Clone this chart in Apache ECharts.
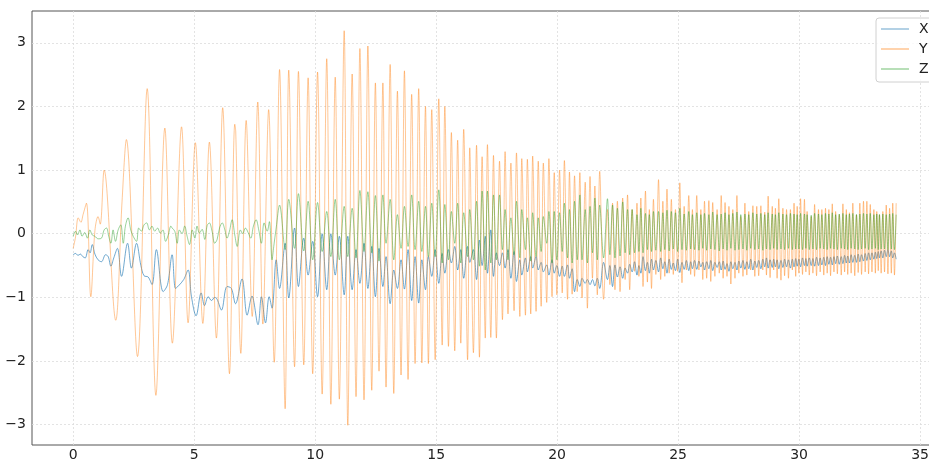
<!DOCTYPE html>
<html>
<head>
<meta charset="utf-8">
<script src="https://cdn.jsdelivr.net/npm/echarts@6/dist/echarts.min.js"></script>
<style>
  html, body { margin: 0; padding: 0; background: #fff; }
  #chart { width: 929px; height: 461px; }
</style>
</head>
<body>
<div id="chart"></div>
<script>
const names = ['X', 'Y', 'Z']
const colors = ['#1f77b4', '#ff7f0e', '#2ca02c']

// first seconds, read as [t, value] pairs (slow part of the record)
const xEarly = [[0, -0.33], [0.1, -0.31], [0.2, -0.34], [0.3, -0.32], [0.4, -0.36], [0.5, -0.38], [0.62, -0.25], [0.7, -0.3], [0.79, -0.17], [0.9, -0.32],
  [1.03, -0.41], [1.17, -0.44], [1.34, -0.33], [1.45, -0.36], [1.56, -0.51], [1.68, -0.38], [1.83, -0.23], [2.0, -0.67], [2.25, -0.15], [2.41, -0.54],
  [2.62, -0.15], [2.8, -0.5], [2.93, -0.66], [3.1, -0.68], [3.26, -0.8], [3.44, -0.25], [3.72, -0.91], [3.9, -0.8], [4.09, -0.33], [4.23, -0.86],
  [4.35, -0.82], [4.57, -0.72], [4.75, -0.57], [4.89, -0.99], [5.08, -1.29], [5.29, -0.93], [5.43, -1.13], [5.58, -0.99], [5.72, -1.05], [5.85, -1.0],
  [5.95, -1.03], [6.13, -1.2], [6.36, -0.83], [6.54, -0.86], [6.71, -1.1], [6.98, -0.71], [7.19, -1.28], [7.39, -0.98], [7.64, -1.43], [7.78, -0.99],
  [7.95, -1.4], [8.1, -0.99], [8.22, -1.17], [8.39, -0.41]]

const yEarly = [[0, -0.23], [0.1, -0.05], [0.21, 0.25], [0.32, 0.18], [0.41, 0.3], [0.55, 0.48], [0.73, -0.99], [0.9, 0.05], [1.03, 0.27], [1.12, 0.15],
  [1.28, 1.0], [1.76, -1.36], [2.02, 0.5], [2.2, 1.48], [2.66, -1.93], [3.06, 2.28], [3.42, -2.54], [3.79, 1.66], [4.1, -1.72], [4.48, 1.68],
  [4.75, -1.4], [5.05, 1.43], [5.36, -1.41], [5.63, 1.44], [5.92, -1.64], [6.18, 1.98], [6.46, -2.2], [6.68, 1.72], [6.72, 1.6], [6.93, -1.88],
  [7.15, 1.78], [7.4, -1.3], [7.63, 2.07], [7.84, -1.42], [8.08, 1.95], [8.31, -2.02]]

const zEarly = [[0, -0.04], [0.1, 0.04], [0.18, -0.02], [0.28, 0.06], [0.37, -0.04], [0.48, 0.02], [0.59, -0.07], [0.69, 0.06], [0.79, -0.02], [0.9, -0.04],
  [1.03, -0.08], [1.17, -0.07], [1.28, 0.06], [1.38, 0.09], [1.47, -0.04], [1.56, -0.15], [1.65, 0.06], [1.75, -0.12], [1.86, 0.06], [1.97, 0.14],
  [2.07, -0.15], [2.16, 0.12], [2.27, 0.25], [2.38, 0.06], [2.48, -0.04], [2.62, -0.12], [2.71, 0.09], [2.82, 0.04], [2.93, 0.14], [3.04, 0.17],
  [3.15, 0.06], [3.26, 0.12], [3.37, 0.04], [3.49, 0.09], [3.6, 0.01], [3.71, 0.06], [3.82, -0.12], [3.93, -0.02], [4.04, 0.12], [4.09, 0.09],
  [4.2, 0.04], [4.3, -0.15], [4.39, 0.06], [4.5, 0.0], [4.61, 0.12], [4.71, -0.04], [4.81, -0.17], [4.92, 0.06], [5.03, -0.07], [5.12, 0.12],
  [5.22, 0.01], [5.33, 0.07], [5.44, -0.09], [5.54, 0.13], [5.63, 0.17], [5.74, 0.04], [5.85, -0.15], [5.95, -0.09], [6.05, 0.09], [6.16, 0.17],
  [6.27, 0.06], [6.36, -0.07], [6.46, 0.04], [6.57, 0.22], [6.68, -0.02], [6.78, -0.2], [6.91, 0.06], [7.01, 0.0], [7.12, 0.09], [7.23, 0.02],
  [7.34, -0.07], [7.45, 0.12], [7.56, 0.22], [7.67, 0.06], [7.78, -0.15], [7.89, 0.17], [8.02, 0.04], [8.11, 0.19], [8.22, -0.41], [8.29, -0.2],
  [8.39, 0.09]]

// fast part: times of the Y peaks / troughs, and the three signals at those times
const tLate = [8.53, 8.76, 8.91, 9.15, 9.31, 9.53, 9.71, 9.90, 10.10, 10.29,
  10.48, 10.65, 10.83, 11.00, 11.20, 11.35, 11.53, 11.69, 11.85, 12.02,
  12.18, 12.34, 12.49, 12.64, 12.80, 12.93, 13.10, 13.25, 13.40, 13.55,
  13.69, 13.84, 13.99, 14.13, 14.28, 14.41, 14.56, 14.68, 14.82, 14.96,
  15.11, 15.25, 15.36, 15.51, 15.63, 15.77, 15.89, 16.02, 16.14, 16.30,
  16.39, 16.54, 16.67, 16.79, 16.90, 17.03, 17.12, 17.26, 17.37, 17.49,
  17.62, 17.74, 17.85, 17.97, 18.09, 18.22, 18.32, 18.46, 18.54, 18.69,
  18.77, 18.91, 18.99, 19.13, 19.22, 19.34, 19.43, 19.57, 19.66, 19.79,
  19.88, 19.99, 20.10, 20.21, 20.30, 20.43, 20.51, 20.62, 20.72, 20.83,
  20.94, 21.03, 21.16, 21.25, 21.36, 21.46, 21.56, 21.66, 21.76, 21.92,
  22.08, 22.18, 22.29, 22.39, 22.49, 22.60, 22.71, 22.81, 22.91, 23.00,
  23.10, 23.20, 23.30, 23.38, 23.46, 23.55, 23.65, 23.73, 23.81, 23.90,
  23.98, 24.08, 24.19, 24.28, 24.37, 24.45, 24.54, 24.63, 24.72, 24.80,
  24.89, 24.98, 25.07, 25.16, 25.25, 25.34, 25.44, 25.52, 25.59, 25.68,
  25.77, 25.86, 25.94, 26.02, 26.09, 26.18, 26.27, 26.35, 26.43, 26.52,
  26.61, 26.70, 26.78, 26.86, 26.94, 27.02, 27.10, 27.18, 27.26, 27.35,
  27.43, 27.51, 27.59, 27.68, 27.76, 27.84, 27.92, 28.00, 28.09, 28.17,
  28.25, 28.33, 28.42, 28.50, 28.58, 28.65, 28.72, 28.80, 28.89, 28.95,
  29.02, 29.09, 29.16, 29.25, 29.33, 29.40, 29.48, 29.56, 29.64, 29.72,
  29.79, 29.86, 29.92, 29.99, 30.06, 30.14, 30.22, 30.28, 30.33, 30.42,
  30.50, 30.57, 30.64, 30.72, 30.80, 30.87, 30.94, 31.02, 31.09, 31.16,
  31.23, 31.30, 31.37, 31.44, 31.51, 31.58, 31.66, 31.74, 31.81, 31.88,
  31.95, 32.01, 32.08, 32.15, 32.22, 32.30, 32.37, 32.44, 32.51, 32.58,
  32.66, 32.73, 32.80, 32.87, 32.94, 33.01, 33.09, 33.15, 33.21, 33.27,
  33.32, 33.39, 33.46, 33.53, 33.60, 33.67, 33.74, 33.81, 33.87, 33.94,
  34.01]

const yLate = [2.58, -2.75, 2.57, -2.09, 2.55, -2.06, 2.45, -2.20, 2.54, -2.52,
  2.75, -2.68, 2.46, -2.60, 3.19, -3.01, 2.51, -2.56, 2.91, -2.61,
  2.95, -2.46, 2.37, -2.16, 2.37, -2.41, 2.66, -2.51, 2.24, -2.22,
  2.56, -2.29, 2.19, -2.04, 2.28, -2.03, 2.00, -2.04, 1.95, -1.98,
  2.12, -1.75, 2.00, -1.77, 1.59, -1.84, 1.47, -1.72, 1.64, -1.98,
  1.35, -1.87, 1.39, -1.94, 1.21, -1.64, 1.40, -1.63, 1.23, -1.64,
  1.14, -1.35, 1.29, -1.26, 1.11, -1.21, 1.27, -1.30, 1.18, -1.28,
  1.17, -1.26, 1.22, -1.22, 1.14, -1.14, 1.11, -1.08, 1.18, -0.99,
  0.96, -0.96, 1.00, -0.93, 1.15, -1.03, 0.97, -0.95, 0.91, -0.91,
  0.96, -1.01, 0.81, -1.17, 0.90, -0.70, 0.75, -0.96, 0.98, -1.03,
  0.38, -0.80, 0.48, -0.88, 0.51, -0.91, 0.56, -0.72, 0.61, -0.88,
  0.38, -0.59, 0.48, -0.67, 0.56, -0.83, 0.67, -0.76, 0.38, -0.86,
  0.54, -0.64, 0.85, -0.72, 0.51, -0.67, 0.70, -0.62, 0.54, -0.64,
  0.38, -0.59, 0.80, -0.77, 0.43, -0.57, 0.60, -0.64, 0.38, -0.67,
  0.60, -0.57, 0.38, -0.72, 0.51, -0.70, 0.52, -0.75, 0.49, -0.67,
  0.38, -0.62, 0.60, -0.70, 0.49, -0.67, 0.43, -0.79, 0.38, -0.70,
  0.60, -0.62, 0.27, -0.67, 0.48, -0.65, 0.35, -0.57, 0.44, -0.67,
  0.43, -0.66, 0.44, -0.57, 0.34, -0.65, 0.59, -0.69, 0.43, -0.57,
  0.40, -0.70, 0.55, -0.73, 0.40, -0.66, 0.38, -0.70, 0.38, -0.57,
  0.48, -0.67, 0.43, -0.62, 0.55, -0.64, 0.54, -0.60, 0.35, -0.65,
  0.27, -0.62, 0.46, -0.66, 0.38, -0.60, 0.38, -0.65, 0.40, -0.62,
  0.38, -0.66, 0.47, -0.60, 0.35, -0.63, 0.30, -0.65, 0.47, -0.60,
  0.38, -0.64, 0.33, -0.62, 0.48, -0.66, 0.30, -0.61, 0.48, -0.64,
  0.51, -0.60, 0.51, -0.63, 0.46, -0.60, 0.38, -0.62, 0.35, -0.58,
  0.30, -0.62, 0.35, -0.60, 0.45, -0.63, 0.40, -0.62, 0.48, -0.65,
  0.48]

const xLate = [-0.86, -0.15, -1.01, 0.09, -0.83, -0.07, -0.65, -0.12, -0.99, 0.00,
  -0.88, 0.00, -0.65, -0.04, -0.96, -0.04, -0.88, -0.25, -0.78, -0.15,
  -0.86, -0.20, -0.99, -0.23, -0.83, -0.36, -1.10, -0.57, -0.86, -0.41,
  -0.87, -0.25, -1.05, -0.36, -1.09, -0.41, -0.88, -0.36, -0.67, -0.25,
  -0.78, -0.31, -0.62, -0.25, -0.46, -0.20, -0.57, -0.25, -0.70, -0.20,
  -0.45, -0.25, -0.72, -0.10, -0.50, -0.04, -0.62, 0.06, -0.67, -0.30,
  -0.50, -0.30, -0.54, -0.25, -0.70, -0.28, -0.75, -0.41, -0.65, -0.38,
  -0.60, -0.36, -0.54, -0.36, -0.57, -0.45, -0.60, -0.49, -0.65, -0.41,
  -0.62, -0.50, -0.67, -0.51, -0.67, -0.49, -0.70, -0.55, -0.91, -0.72,
  -0.83, -0.70, -0.78, -0.72, -0.80, -0.72, -0.82, -0.70, -0.86, -0.45,
  -0.72, -0.50, -0.83, -0.49, -0.68, -0.52, -0.70, -0.54, -0.62, -0.48,
  -0.60, -0.44, -0.65, -0.50, -0.62, -0.36, -0.58, -0.45, -0.62, -0.40,
  -0.57, -0.42, -0.60, -0.38, -0.55, -0.44, -0.62, -0.40, -0.56, -0.46,
  -0.58, -0.40, -0.61, -0.45, -0.56, -0.42, -0.58, -0.44, -0.55, -0.42,
  -0.56, -0.43, -0.52, -0.45, -0.57, -0.44, -0.55, -0.42, -0.58, -0.45,
  -0.53, -0.44, -0.57, -0.43, -0.56, -0.47, -0.59, -0.44, -0.55, -0.45,
  -0.57, -0.43, -0.54, -0.42, -0.56, -0.44, -0.55, -0.40, -0.57, -0.43,
  -0.53, -0.42, -0.55, -0.40, -0.52, -0.38, -0.54, -0.41, -0.53, -0.40,
  -0.52, -0.41, -0.55, -0.42, -0.53, -0.40, -0.52, -0.41, -0.54, -0.40,
  -0.52, -0.39, -0.51, -0.40, -0.52, -0.38, -0.50, -0.39, -0.51, -0.38,
  -0.50, -0.39, -0.51, -0.37, -0.50, -0.38, -0.49, -0.37, -0.50, -0.36,
  -0.48, -0.37, -0.49, -0.36, -0.47, -0.35, -0.48, -0.36, -0.47, -0.34,
  -0.46, -0.35, -0.46, -0.33, -0.45, -0.34, -0.45, -0.32, -0.44, -0.33,
  -0.43, -0.31, -0.42, -0.30, -0.41, -0.30, -0.40, -0.29, -0.39, -0.28,
  -0.38, -0.27, -0.38, -0.26, -0.36, -0.25, -0.36, -0.27, -0.38, -0.30,
  -0.40]

const zLate = [0.45, -0.25, 0.54, -0.23, 0.63, -0.27, 0.51, -0.41, 0.49, -0.28,
  0.35, -0.36, 0.54, -0.41, 0.43, -0.36, 0.40, -0.38, 0.68, -0.28,
  0.66, -0.30, 0.60, -0.43, 0.61, -0.15, 0.54, -0.41, 0.30, -0.23,
  0.43, -0.20, 0.61, -0.25, 0.51, -0.28, 0.43, -0.36, 0.48, -0.36,
  0.69, -0.46, 0.46, -0.41, 0.35, -0.15, 0.48, -0.46, 0.33, -0.36,
  0.38, -0.41, 0.51, -0.51, 0.67, -0.57, 0.67, -0.46, 0.61, -0.41,
  0.61, -0.25, 0.38, -0.41, 0.25, -0.33, 0.51, -0.38, 0.38, -0.25,
  0.25, -0.43, 0.33, -0.36, 0.25, -0.28, 0.27, -0.15, 0.35, -0.46,
  0.35, -0.41, 0.33, -0.28, 0.48, -0.38, 0.38, -0.46, 0.51, -0.41,
  0.61, -0.41, 0.38, -0.46, 0.43, -0.30, 0.56, -0.41, 0.45, -0.38,
  0.55, -0.33, 0.45, -0.38, 0.40, -0.35, 0.50, -0.30, 0.38, -0.33,
  0.38, -0.30, 0.30, -0.28, 0.40, -0.30, 0.32, -0.25, 0.30, -0.28,
  0.35, -0.26, 0.35, -0.28, 0.33, -0.25, 0.37, -0.27, 0.35, -0.24,
  0.33, -0.28, 0.40, -0.25, 0.31, -0.26, 0.35, -0.24, 0.30, -0.25,
  0.33, -0.26, 0.30, -0.23, 0.32, -0.26, 0.30, -0.24, 0.34, -0.25,
  0.30, -0.27, 0.31, -0.24, 0.33, -0.26, 0.30, -0.23, 0.32, -0.26,
  0.34, -0.25, 0.30, -0.24, 0.31, -0.26, 0.30, -0.23, 0.33, -0.25,
  0.31, -0.24, 0.32, -0.26, 0.30, -0.24, 0.33, -0.25, 0.31, -0.23,
  0.30, -0.25, 0.33, -0.24, 0.31, -0.25, 0.30, -0.23, 0.32, -0.25,
  0.31, -0.24, 0.30, -0.24, 0.32, -0.25, 0.31, -0.23, 0.30, -0.25,
  0.29, -0.24, 0.32, -0.25, 0.31, -0.23, 0.30, -0.24, 0.32, -0.25,
  0.31, -0.23, 0.33, -0.24, 0.30, -0.25, 0.31, -0.23, 0.32, -0.24,
  0.30, -0.25, 0.31, -0.23, 0.32, -0.24, 0.30, -0.25, 0.31, -0.24,
  0.32, -0.23, 0.31, -0.25, 0.32, -0.24, 0.30, -0.23, 0.31, -0.25,
  0.30, -0.24, 0.31, -0.24, 0.30, -0.25, 0.31, -0.24, 0.32, -0.25,
  0.30]

const withLate = (early, vals) => early.concat(tLate.map((t, i) => [t, vals[i]]))
const seriesData = [withLate(xEarly, xLate), withLate(yEarly, yLate), withLate(zEarly, zLate)]
const lineOpacity = [0.8, 0.55, 0.6]

const minusFmt = (v) => (v < 0 ? '\u2212' + Math.abs(v) : String(v))
const font = 'DejaVu Sans'

const chart = echarts.init(document.getElementById('chart'), null, { renderer: 'canvas' })

const gridLine = { show: true, showMinLine: false, showMaxLine: false, lineStyle: { color: '#dcdcdc', width: 0.8, type: [2, 2] } }

const option = {
  animation: false,
  backgroundColor: '#fff',
  grid: {
    left: 32,
    right: -2,
    top: 11,
    bottom: 16,
    outerBoundsMode: 'none',
    containLabel: false,
    show: true,
    borderColor: '#555',
    borderWidth: 1
  },
  legend: {
    orient: 'vertical',
    left: 876,
    top: 18,
    padding: [4, 30, 6, 5],
    icon: 'rect',
    itemWidth: 28,
    itemHeight: 1.5,
    itemGap: 6,
    itemStyle: { opacity: 0.45 },
    backgroundColor: 'rgba(255,255,255,0.8)',
    borderColor: '#d0d0d0',
    borderWidth: 1,
    borderRadius: 3,
    textStyle: { fontFamily: font, fontSize: 14, color: '#222', padding: [0, 0, 0, 5] },
    data: names
  },
  xAxis: {
    type: 'value',
    min: -1.7,
    max: 35.45,
    splitNumber: 8,
    minInterval: 5,
    maxInterval: 5,
    axisLine: { show: false },
    axisTick: { show: false },
    axisLabel: {
      showMinLabel: false,
      showMaxLabel: false,
      margin: 3,
      fontFamily: font,
      fontSize: 14,
      color: '#222',
      formatter: minusFmt
    },
    splitLine: gridLine
  },
  yAxis: {
    type: 'value',
    min: -3.32,
    max: 3.5,
    splitNumber: 6,
    minInterval: 1,
    maxInterval: 1,
    axisLine: { show: false },
    axisTick: { show: false },
    axisLabel: {
      showMinLabel: false,
      showMaxLabel: false,
      margin: 6,
      fontFamily: font,
      fontSize: 14,
      color: '#222',
      formatter: minusFmt
    },
    splitLine: gridLine
  },
  series: names.map((name, i) => ({
    name: name,
    type: 'line',
    data: seriesData[i],
    symbol: 'none',
    smooth: 0.35,
    color: colors[i],
    lineStyle: { width: 0.8, opacity: lineOpacity[i] }
  }))
}

chart.setOption(option)
</script>
</body>
</html>
